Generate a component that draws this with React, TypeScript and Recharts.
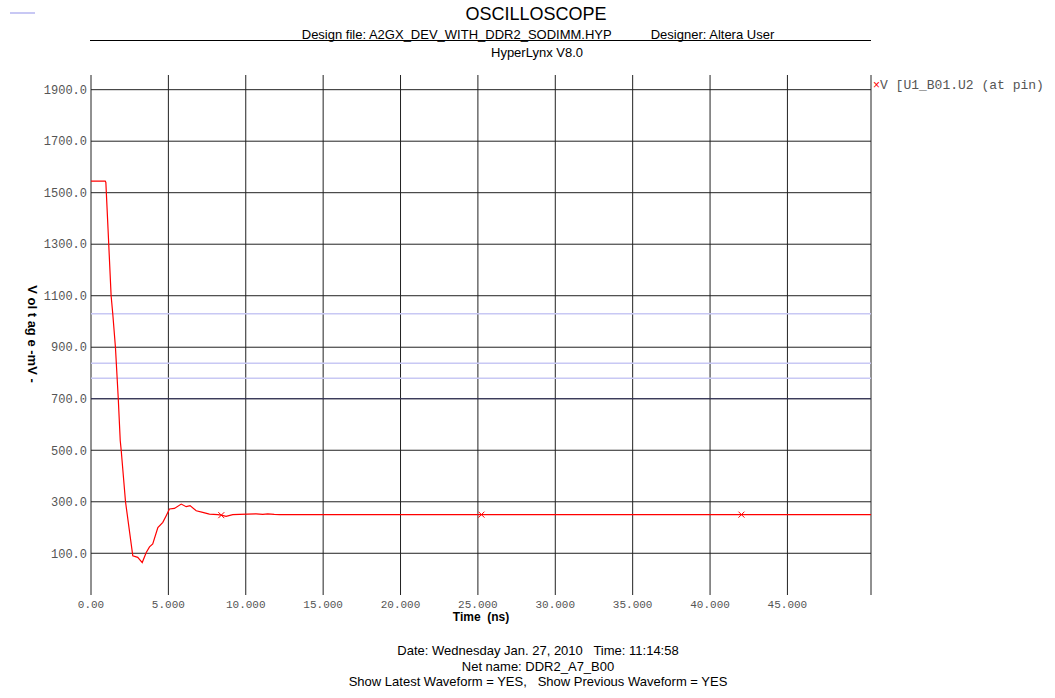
import { Label, Line, LineChart, ReferenceLine, XAxis, YAxis } from 'recharts'

// waveform samples
const TIME_NS = [
  0, 0.92, 0.96, 1.1, 1.3, 1.41, 1.58, 1.76, 1.89, 1.95, 2.23, 2.7, 3.02, 3.31, 3.57, 3.78, 3.99, 4.32, 4.64, 4.86,
  5.07, 5.39, 5.83, 6.15, 6.4, 6.8, 7.22, 7.65, 8.19, 8.42, 8.73, 9.16, 9.59, 10.67, 11.1, 11.42, 11.84, 12.2, 25.23,
  42.03, 50.4,
]
const VOLTAGE_MV = [
  1545, 1545, 1540, 1360, 1100, 1027, 899, 703, 537, 501, 300, 90, 84, 64, 103, 125, 136, 200, 220, 246, 272, 274, 291,
  281, 285, 265, 259, 252, 250, 248, 243, 250, 251, 253, 251, 253, 251, 250, 250, 250, 250,
]
const MARKER_TIMES = [8.42, 25.23, 42.03]

const X_TICKS = [0, 5, 10, 15, 20, 25, 30, 35, 40, 45]
const Y_TICKS = [100, 300, 500, 700, 900, 1100, 1300, 1500, 1700, 1900]
const X_MAX = 50.4
const Y_DOMAIN = [-62, 1957]

// threshold lines (mV)
const THRESHOLDS = [1030, 838, 780]
const VREF_LOW = 700

const SERIES_NAME = 'V [U1_B01.U2 (at pin)'

const data = TIME_NS.map((t, i) => ({ t, v: VOLTAGE_MV[i], marker: MARKER_TIMES.includes(t) }))

const SANS = '"Liberation Sans", Arial, sans-serif'
const MONO = '"Liberation Mono", "Courier New", monospace'
const GRID = '#222'

function CenterText({ x, y, size, bold, children }: { x: number; y: number; size: number; bold?: boolean; children: any }) {
  return (
    <div
      style={{
        position: 'absolute',
        left: x,
        top: y,
        transform: 'translate(-50%, -50%)',
        whiteSpace: 'pre',
        fontFamily: SANS,
        fontSize: size,
        fontWeight: bold ? 'bold' : 'normal',
        color: '#000',
        lineHeight: 1,
      }}
    >
      {children}
    </div>
  )
}

const XMark = (props: any) => {
  const { cx, cy, index, payload } = props
  if (!payload.marker) return <g key={`d-${index}`} />
  return (
    <g key={`d-${index}`} stroke="#f00" strokeWidth={1}>
      <line x1={cx - 3} y1={cy - 3} x2={cx + 3} y2={cy + 3} />
      <line x1={cx - 3} y1={cy + 3} x2={cx + 3} y2={cy - 3} />
    </g>
  )
}

export default function App() {
  return (
    <div style={{ position: 'absolute', left: 0, top: 0, width: 1055, height: 698, background: '#fff' }}>
      <div style={{ position: 'absolute', left: 10, top: 12, width: 25, height: 2, background: '#c8c8f4' }} />
      <CenterText x={536} y={14} size={18}>OSCILLOSCOPE</CenterText>
      <div
        style={{
          position: 'absolute',
          left: 538,
          top: 34,
          transform: 'translate(-50%, -50%)',
          whiteSpace: 'pre',
          fontFamily: SANS,
          fontSize: 13,
          lineHeight: 1,
          display: 'flex',
          gap: 39,
        }}
      >
        <span>Design file: A2GX_DEV_WITH_DDR2_SODIMM.HYP</span>
        <span>Designer: Altera User</span>
      </div>
      <div style={{ position: 'absolute', left: 90, top: 40, width: 781, height: 1, background: '#000' }} />
      <CenterText x={537} y={52} size={13}>HyperLynx V8.0</CenterText>

      <LineChart width={1055} height={698} data={data} margin={{ top: 75, right: 184, bottom: 0, left: 0 }}>
        <XAxis
          dataKey="t"
          type="number"
          domain={[0, X_MAX]}
          ticks={X_TICKS}
          height={103}
          axisLine={false}
          tickLine={false}
          tickSize={0}
          tickMargin={5}
          tick={{ fontFamily: MONO, fontSize: 11, fill: '#555' }}
          tickFormatter={(v: number) => (v === 0 ? '0.00' : v.toFixed(3))}
        >
          <Label
            value={'Time\u00a0 (ns)'}
            position="insideTop"
            offset={17}
            style={{ fontFamily: SANS, fontSize: 12, fontWeight: 'bold', fill: '#000' }}
          />
        </XAxis>
        <YAxis
          type="number"
          domain={Y_DOMAIN}
          ticks={Y_TICKS}
          width={91}
          axisLine={false}
          tickLine={false}
          tickSize={0}
          tickMargin={4}
          tick={{ fontFamily: MONO, fontSize: 12, fill: '#555' }}
          tickFormatter={(v: number) => v.toFixed(1)}
        >
          <Label
            content={() => (
              <text
                x={31}
                y={334}
                transform="rotate(90, 31, 334)"
                textAnchor="middle"
                dominantBaseline="middle"
                style={{ fontFamily: SANS, fontSize: 13, fontWeight: 'bold', fill: '#000', whiteSpace: 'pre' }}
              >
                {'V ol t ag e -mV -'}
              </text>
            )}
          />
        </YAxis>
        {Y_TICKS.map((y) => (
          <ReferenceLine key={`gy-${y}`} y={y} stroke={GRID} strokeWidth={1} />
        ))}
        {[...X_TICKS, X_MAX].map((x) => (
          <ReferenceLine key={`gx-${x}`} x={x} stroke={GRID} strokeWidth={1} />
        ))}
        {THRESHOLDS.map((y) => (
          <ReferenceLine key={y} y={y} stroke="#c8c8f4" strokeWidth={1.5} />
        ))}
        <ReferenceLine y={VREF_LOW} stroke="#34345e" strokeWidth={1} />
        <Line
          dataKey="v"
          name={SERIES_NAME}
          type="linear"
          stroke="#f00"
          strokeWidth={1.2}
          dot={XMark}
          activeDot={false}
          isAnimationActive={false}
        />
      </LineChart>

      <div
        style={{
          position: 'absolute',
          left: 873,
          top: 78,
          whiteSpace: 'pre',
          fontFamily: MONO,
          fontSize: 13,
          lineHeight: '14px',
          color: '#555',
        }}
      >
        <span style={{ color: '#f00', fontFamily: SANS, fontSize: 12 }}>×</span>
        {SERIES_NAME}
      </div>

      <CenterText x={538} y={650} size={13}>Date: Wednesday Jan. 27, 2010   Time: 11:14:58</CenterText>
      <CenterText x={538} y={666} size={13}>Net name: DDR2_A7_B00</CenterText>
      <CenterText x={538} y={681} size={13}>Show Latest Waveform = YES,   Show Previous Waveform = YES</CenterText>
    </div>
  )
}
